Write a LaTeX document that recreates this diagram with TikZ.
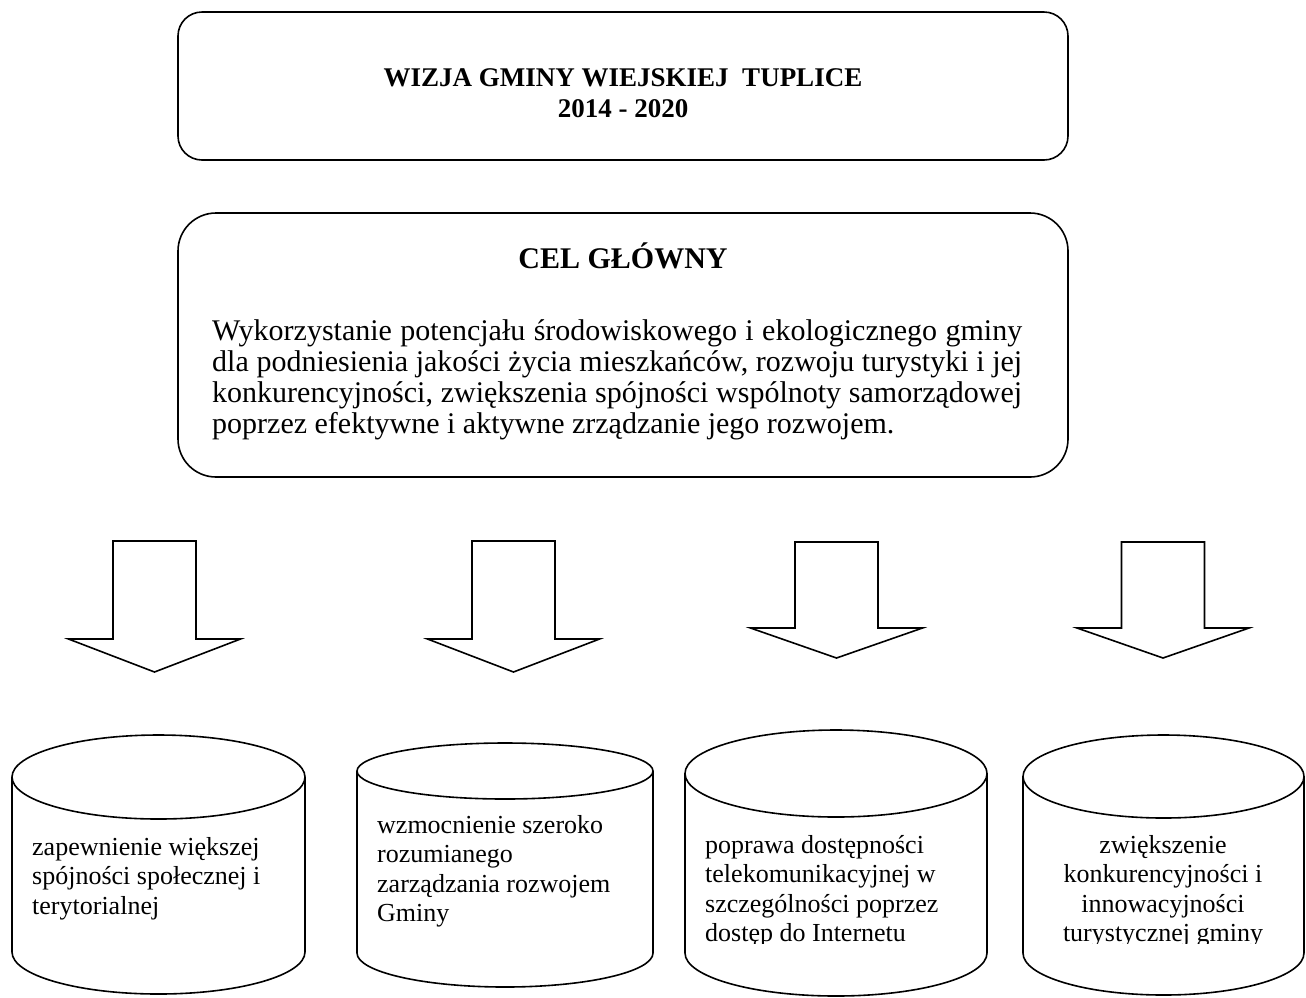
\documentclass[tikz,border=0pt]{standalone}
\usepackage{fontspec}
\setmainfont{Liberation Serif}
\newcommand\mylinesl[1]{\begin{tabular}[t]{@{}l@{}}#1\end{tabular}}
\newcommand\mylinesc[1]{\begin{tabular}[t]{@{}c@{}}#1\end{tabular}}
\newcommand\jline[1]{\makebox[810pt][s]{#1}}
\tikzset{
  frame/.style={draw, line width=1.6pt, rounded corners=#1, inner sep=0pt},
  outline/.style={draw, line width=1.6pt, line join=miter},
  txt/.style={inner sep=0pt, font=\fontsize{26}{29.6}\selectfont},
  bodytxt/.style={inner sep=0pt, font=\fontsize{30}{31}\selectfont},
}
\begin{document}
\begin{tikzpicture}[x=1pt,y=-1pt]
\useasboundingbox (0,0) rectangle (1306,997);
% top box
\node[frame=24, minimum width=890pt, minimum height=148pt] (vision) at (623,86) {};
\node[inner sep=0pt, anchor=base, font=\fontsize{27}{31}\selectfont\bfseries] (visiontext) at (623,86)
  {\mylinesc{WIZJA GMINY WIEJSKIEJ\ \ TUPLICE\\2014 - 2020}};
% goal box
\node[frame=38, minimum width=890pt, minimum height=264pt] (goal) at (623,345) {};
\node[inner sep=0pt, anchor=base, font=\fontsize{30}{34}\selectfont\bfseries] (goaltitle) at (623,268) {CEL GŁÓWNY};
\node[bodytxt, anchor=base west] (goaltext) at (212,340)
  {\mylinesl{\jline{Wykorzystanie potencjału środowiskowego i ekologicznego gminy}\\
  \jline{dla podniesienia jakości życia mieszkańców, rozwoju turystyki i jej}\\
  \jline{konkurencyjności, zwiększenia spójności wspólnoty samorządowej}\\
  poprzez efektywne i aktywne zrządzanie jego rozwojem.}};
% block arrows
\foreach \n/\cx/\top/\wy/\ty in {1/154.5/541/639/672, 2/513.5/541/639/672, 3/836.5/542/628/658, 4/1163/542/628/658}{
  \coordinate (arrowtip\n) at (\cx,\ty);
  \draw[outline] (\cx-41.5,\top) -- (\cx+41.5,\top) -- (\cx+41.5,\wy) -- (\cx+86,\wy)
     -- (arrowtip\n) -- (\cx-86,\wy) -- (\cx-41.5,\wy) -- cycle;
}
% cylinders
\foreach \n/\cx/\rx/\ty/\try/\by/\bry in {1/158.5/146.5/777/42/952/42, 2/505/148/771/28/953/34, 3/836/151/773.5/43.5/953/43, 4/1163.5/140.5/776.5/41.5/953/42}{
  \draw[outline] (\cx,\ty) ellipse [x radius=\rx, y radius=\try];
  \draw[outline] (\cx-\rx,\ty) -- (\cx-\rx,\by) arc[start angle=180, end angle=360, x radius=\rx, y radius=-\bry] -- (\cx+\rx,\ty);
}
\node[txt, anchor=base west] (obj1) at (32,855)
  {\mylinesl{zapewnienie większej\\spójności społecznej i\\terytorialnej}};
\node[txt, anchor=base west] (obj2) at (377,833)
  {\mylinesl{wzmocnienie szeroko\\rozumianego\\zarządzania rozwojem\\Gminy}};
\begin{scope}
\clip (0,700) rectangle (1306,943);
\node[txt, anchor=base west] (obj3) at (705,853)
  {\mylinesl{poprawa dostępności\\telekomunikacyjnej w\\szczególności poprzez\\dostęp do Internetu}};
\node[txt, anchor=base] (obj4) at (1163,853)
  {\mylinesc{zwiększenie\\konkurencyjności i\\innowacyjności\\turystycznej gminy}};
\end{scope}
\end{tikzpicture}
\end{document}
